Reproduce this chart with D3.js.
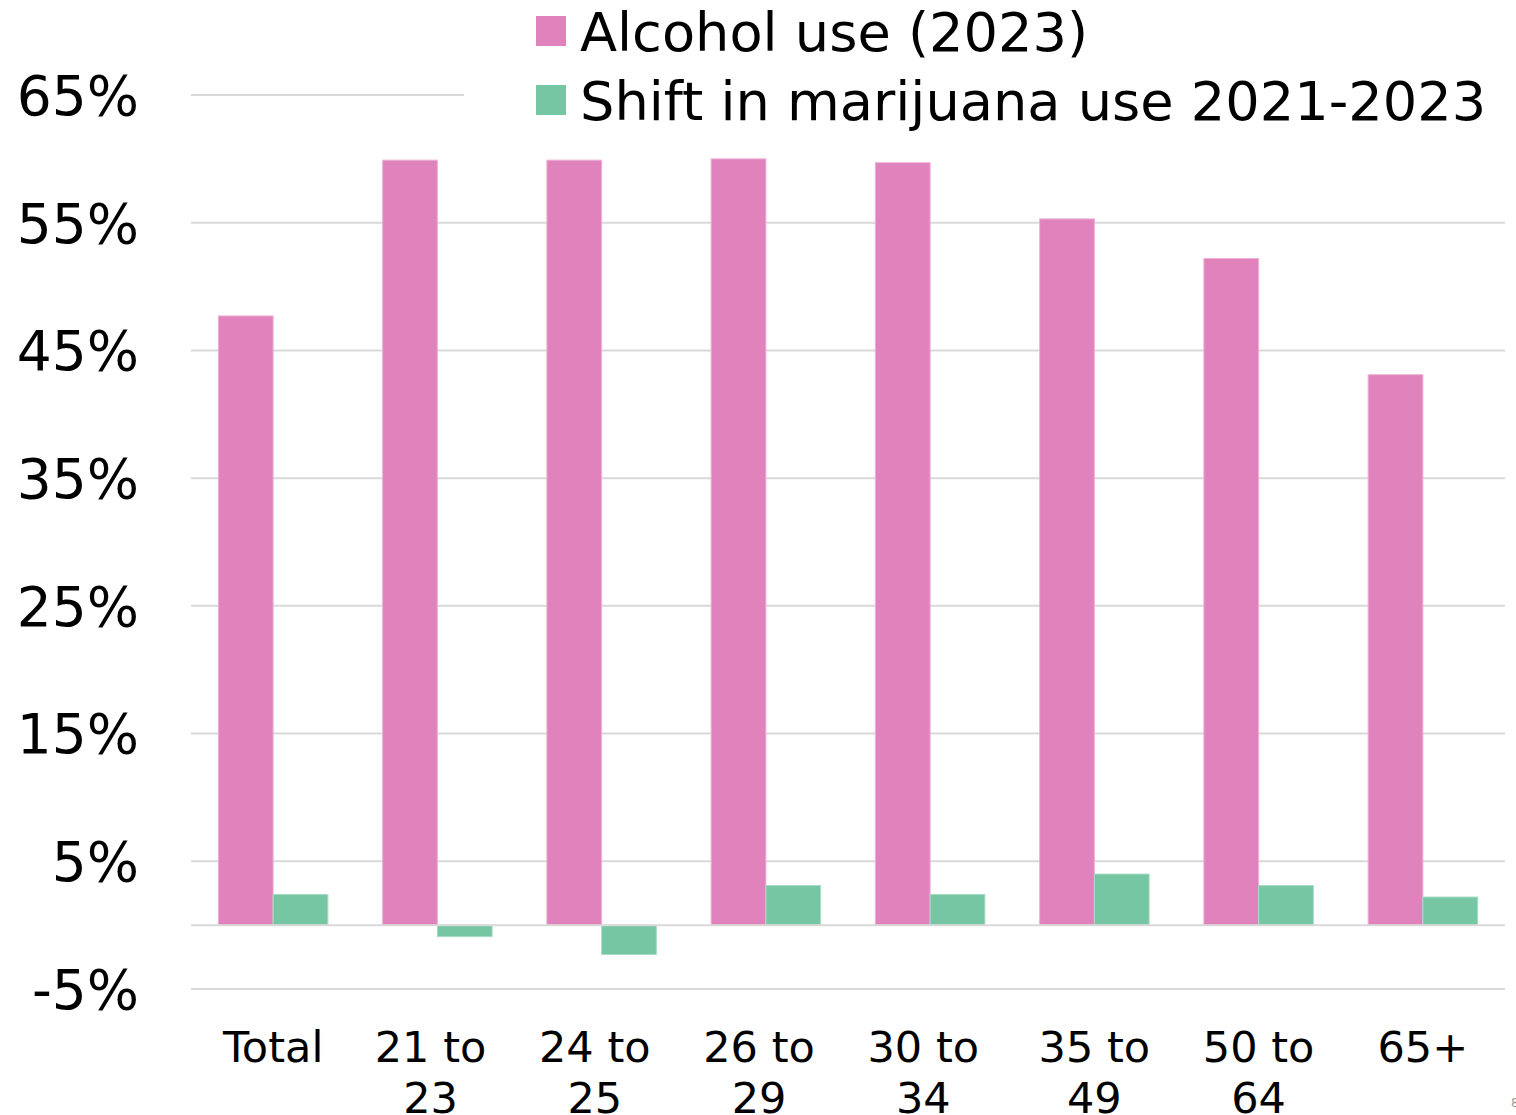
<!DOCTYPE html>
<html>
<head>
<meta charset="utf-8">
<script src="https://cdn.jsdelivr.net/npm/d3@7"></script>
<style>
  html, body { margin: 0; padding: 0; background: #fff; }
  svg { display: block; font-family: "DejaVu Sans", Verdana, sans-serif; }
  .cat tspan { white-space: pre; }
</style>
</head>
<body>
<svg id="chart" width="1516" height="1115"></svg>
<script>
// Age groups along the x axis; wrapped labels keep their trailing spaces
const categories = ["Total", "21 to 23", "24 to 25", "26 to 29", "30 to 34", "35 to 49", "50 to 64", "65+"];
const categoryLines = [["Total"], ["21 to ", "23 "], ["24 to ", "25 "], ["26 to ", "29 "], ["30 to ", "34 "], ["35 to", "49"], ["50 to", "64"], ["65+"]];

// Percent of respondents
const alcoholUse = [47.7, 59.9, 59.9, 60.0, 59.7, 55.3, 52.2, 43.1];
const marijuanaShift = [2.4, -0.9, -2.3, 3.1, 2.4, 4.0, 3.1, 2.2];

const seriesNames = ["Alcohol use (2023)", "Shift in marijuana use 2021-2023"];
const seriesColors = ["#e083bd", "#76c6a3"];
const seriesStrokes = ["#eeb0d6", "#a6dcc4"];

const yTicks = [-5, 5, 15, 25, 35, 45, 55, 65];

const svg = d3.select("#chart");
const plotLeft = 191, plotRight = 1505, plotTop = 95, plotBottom = 989;

const x = d3.scaleBand().domain(categories).range([plotLeft, plotRight]).padding(0);
const y = d3.scaleLinear().domain([-5, 65]).range([plotBottom, plotTop]);

// Gridlines
svg.append("g").selectAll("line")
  .data(yTicks)
  .join("line")
  .attr("x1", plotLeft).attr("x2", plotRight)
  .attr("y1", d => y(d)).attr("y2", d => y(d))
  .attr("stroke", "#d9d9d9").attr("stroke-width", 2);

// Y tick labels
svg.append("g").selectAll("text")
  .data(yTicks)
  .join("text")
  .attr("x", 139).attr("y", d => y(d))
  .attr("dy", "0.36em")
  .attr("text-anchor", "end")
  .attr("font-size", 55)
  .attr("fill", "#000")
  .text(d => d + "%");

const barW = x.bandwidth() / 3;
const series = [alcoholUse, marijuanaShift];

series.forEach((vals, si) => {
  svg.append("g").selectAll("rect")
    .data(vals.map((v, i) => ({ v, c: categories[i] })))
    .join("rect")
    .attr("x", d => x(d.c) + x.bandwidth() / 6 + si * barW)
    .attr("width", barW)
    .attr("y", d => y(Math.max(0, d.v)))
    .attr("height", d => Math.abs(y(d.v) - y(0)))
    .attr("fill", seriesColors[si])
    .attr("stroke", seriesStrokes[si])
    .attr("stroke-width", 1);
});

// Zero baseline
svg.append("line")
  .attr("x1", plotLeft).attr("x2", plotRight)
  .attr("y1", y(0)).attr("y2", y(0))
  .attr("stroke", "#d9d9d9").attr("stroke-width", 2);

// Category labels
const catG = svg.append("g").attr("class", "cat");
categories.forEach((c, i) => {
  const cx = x(c) + x.bandwidth() / 2;
  const t = catG.append("text")
    .attr("x", cx)
    .attr("y", 1062)
    .attr("text-anchor", "middle")
    .attr("font-size", 43)
    .attr("fill", "#000");
  categoryLines[i].forEach((line, li) => {
    t.append("tspan")
      .attr("x", cx)
      .attr("dy", li === 0 ? 0 : 51)
      .text(line);
  });
});

// Legend
const legend = svg.append("g");
legend.append("rect")
  .attr("x", 464).attr("y", 0).attr("width", 1052).attr("height", 130)
  .attr("fill", "#fff");
seriesNames.forEach((name, i) => {
  const cy = 31 + i * 69;
  legend.append("rect")
    .attr("x", 536).attr("y", cy - 15).attr("width", 30).attr("height", 30)
    .attr("fill", seriesColors[i]);
  legend.append("text")
    .attr("x", 580).attr("y", cy)
    .attr("dy", "0.36em")
    .attr("font-size", 54.2)
    .attr("fill", "#000")
    .text(name);
});

// Page number at the corner
svg.append("text")
  .attr("x", 1511).attr("y", 1107)
  .attr("font-size", 12)
  .attr("fill", "#999")
  .text("8");
</script>
</body>
</html>
